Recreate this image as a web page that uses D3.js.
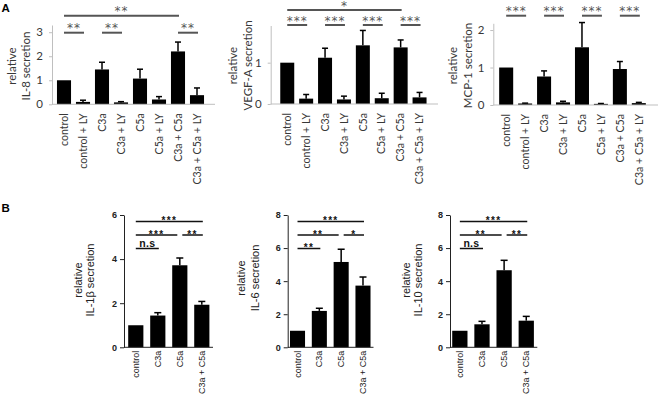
<!DOCTYPE html>
<html><head><meta charset="utf-8">
<script src="https://cdn.jsdelivr.net/npm/d3@7"></script>
<style>body{margin:0;background:#fff}</style>
</head><body><svg id="c" width="661" height="401"></svg>
<script>
// ---------- data ----------
const catsA = ["control","control + LY","C3a","C3a + LY","C5a","C5a + LY","C3a + C5a","C3a + C5a + LY"];
const il8    = [1.0, 0.10, 1.45, 0.08, 1.07, 0.20, 2.20, 0.38];
const il8Err = [0,   0.07, 0.30, 0.03, 0.39, 0.12, 0.39, 0.30];
const vegf    = [1.0, 0.13, 1.12, 0.11, 1.42, 0.14, 1.37, 0.16];
const vegfErr = [0,   0.10, 0.23, 0.08, 0.36, 0.12, 0.18, 0.12];
const mcp1    = [1.0, 0.04, 0.76, 0.07, 1.54, 0.03, 0.96, 0.05];
const mcp1Err = [0,   0.01, 0.15, 0.03, 0.66, 0.01, 0.20, 0.02];
const ticksIL8 = [0,1,2,3];
const ticksVEGF = [0,1];
const ticksMCP1 = [0,1,2];
// significance: [from index, to index, label, level]
const sigIL8  = [[0,6,"**",0],[0,1,"**",1],[2,3,"**",1],[6,7,"**",1]];
const sigVEGF = [[0,6,"*",0],[0,1,"***",1],[2,3,"***",1],[4,5,"***",1],[6,7,"***",1]];
const sigMCP1 = [[0,1,"***",0],[2,3,"***",0],[4,5,"***",0],[6,7,"***",0]];

const catsB = ["control","C3a","C5a","C3a + C5a"];
const il1b    = [1.0, 1.44, 3.72, 1.93];
const il1bErr = [0,   0.13, 0.33, 0.15];
const il6     = [1.0, 2.20, 5.16, 3.73];
const il6Err  = [0,   0.16, 0.77, 0.52];
const il10    = [1.0, 1.39, 4.66, 1.61];
const il10Err = [0,   0.18, 0.60, 0.26];
const ticksIL1b = [0,2,4,6];
const ticksIL6  = [0,2,4,6,8];
const ticksIL10 = [0,2,4,6,8];
const sigIL1b = [[0,3,"***",0],[0,2,"***",1],[2,3,"**",1],[0,1,"n.s",2]];
const sigIL6  = [[0,3,"***",0],[0,2,"**",1],[2,3,"*",1],[0,1,"**",2]];
const sigIL10 = [[0,3,"***",0],[0,2,"**",1],[2,3,"**",1],[0,1,"n.s",2]];

// ---------- drawing ----------
const svg = d3.select("#c");

const styleA = {font:"Lato, 'Liberation Sans', sans-serif", tickFont:"11.5px", tickWeight:"normal",
  textColor:"#383838", axisColor:"#bfbfbf", tickSize:3, tickPad:6, xFont:"10.6px", xOff:9,
  yFont:"11.5px", sigColor:"#555", sigWidth:2, sigFont:"12px", sigWeight:"normal", sigLS:"1px",
  sigFam:"'DejaVu Sans', sans-serif", starDy:-0.5, cap:3, pi:0.26, po:0.13};
const styleB = {font:"'Liberation Sans', Arial, sans-serif", tickFont:"9px", tickWeight:"bold",
  textColor:"#222", axisColor:"#222", tickSize:4, tickPad:3, xFont:"9px", xOff:3.5,
  yFont:"11px", sigColor:"#111", sigWidth:1.5, sigFont:"10px", sigWeight:"bold", sigLS:"1.3px",
  sigFam:"'Liberation Sans', Arial, sans-serif", starDy:2.5, cap:3.5, pi:0.31, po:0.1};

function drawChart(o, st) {
  const g = svg.append("g");
  const x = d3.scaleBand().domain(o.cats).range(o.xr).paddingInner(st.pi).paddingOuter(st.po);
  const y = d3.scaleLinear().domain([0, o.ymax]).range([o.y0, o.yTop]);
  const bw = x.bandwidth();
  const cx = i => x(o.cats[i]) + bw / 2;

  // bars
  g.selectAll("rect.bar").data(o.vals).join("rect")
    .attr("x", (d, i) => x(o.cats[i])).attr("width", bw)
    .attr("y", d => y(d)).attr("height", d => y(0) - y(d)).attr("fill", "#000");

  // error bars
  o.vals.forEach((v, i) => {
    const e = o.errs[i];
    if (!e) return;
    const c = cx(i);
    g.append("line").attr("x1", c).attr("x2", c).attr("y1", y(v)).attr("y2", y(v + e))
      .attr("stroke", "#000").attr("stroke-width", 1.5);
    g.append("line").attr("x1", c - st.cap).attr("x2", c + st.cap).attr("y1", y(v + e)).attr("y2", y(v + e))
      .attr("stroke", "#000").attr("stroke-width", 1.5);
  });

  // y axis
  const ax = g.append("g").attr("transform", `translate(${o.axisX},0)`)
    .call(d3.axisLeft(y).tickValues(o.ticks).tickFormat(d3.format("d"))
      .tickSize(st.tickSize).tickSizeOuter(0).tickPadding(st.tickPad));
  ax.select(".domain").attr("stroke", st.axisColor);
  ax.selectAll(".tick line").attr("stroke", st.axisColor);
  ax.selectAll(".tick text").attr("fill", st.textColor).style("font-family", st.font)
    .style("font-size", st.tickFont).style("font-weight", st.tickWeight);

  // baseline
  g.append("line").attr("x1", o.axisX).attr("x2", o.xEnd).attr("y1", y(0)).attr("y2", y(0))
    .attr("stroke", st.axisColor).attr("stroke-width", 1);

  // x labels
  o.cats.forEach((c, i) => {
    g.append("text").attr("transform", `translate(${cx(i)},${y(0) + st.xOff}) rotate(-90)`)
      .attr("text-anchor", "end").attr("dy", "0.35em")
      .style("font-family", st.font).style("font-size", st.xFont).attr("fill", st.textColor)
      .text(c);
  });

  // y label
  [[o.lab1x, "relative"], [o.lab2x, o.label]].forEach(([lx, t]) => {
    g.append("text").attr("transform", `translate(${lx},${o.labY}) rotate(-90)`)
      .attr("text-anchor", "middle").attr("dy", "0.35em")
      .style("font-family", st.font).style("font-size", st.yFont).attr("fill", st.textColor)
      .text(t);
  });

  // significance
  o.sig.forEach(([a, b, lab, lev]) => {
    const ly = o.sigY[lev];
    let x1 = cx(a), x2 = cx(b) + 1;
    if (o.sig.some(s => s[3] === lev && s[1] === a)) x1 += 2.5;
    if (o.sig.some(s => s[3] === lev && s[0] === b)) x2 -= 3.5;
    g.append("line").attr("x1", x1).attr("x2", x2).attr("y1", ly).attr("y2", ly)
      .attr("stroke", st.sigColor).attr("stroke-width", st.sigWidth);
    const isStar = lab.indexOf("*") >= 0;
    g.append("text").attr("x", (x1 + x2) / 2).attr("y", isStar ? ly + st.starDy : ly - 1.5)
      .attr("text-anchor", "middle").attr("fill", st.sigColor)
      .style("font-family", isStar ? st.sigFam : st.font).style("font-size", isStar ? st.sigFont : "10.5px")
      .style("font-weight", st.sigWeight).style("letter-spacing", isStar ? st.sigLS : "0.3px")
      .text(lab);
  });
}

// panel A
drawChart({cats: catsA, vals: il8, errs: il8Err, ticks: ticksIL8, ymax: 3.3, y0: 104.3, yTop: 25,
  axisX: 52, xr: [54.5, 206.5], xEnd: 215, label: "IL-8 secretion", lab1x: 11.7, lab2x: 25.7, labY: 66,
  sig: sigIL8, sigY: [15.7, 32.7]}, styleA);
drawChart({cats: catsA, vals: vegf, errs: vegfErr, ticks: ticksVEGF, ymax: 1.9, y0: 104, yTop: 25.5,
  axisX: 270.7, xr: [277.8, 429], xEnd: 438, label: "VEGF-A secretion", lab1x: 233.3, lab2x: 248.3, labY: 65.5,
  sig: sigVEGF, sigY: [10, 25]}, styleA);
drawChart({cats: catsA, vals: mcp1, errs: mcp1Err, ticks: ticksMCP1, ymax: 2.18, y0: 105, yTop: 23.3,
  axisX: 493.3, xr: [496.7, 648.3], xEnd: 658, label: "MCP-1 secretion", lab1x: 453.3, lab2x: 468.3, labY: 65.5,
  sig: sigMCP1, sigY: [15.7]}, styleA);

// panel B
drawChart({cats: catsB, vals: il1b, errs: il1bErr, ticks: ticksIL1b, ymax: 6, y0: 347.3, yTop: 215,
  axisX: 124, xr: [126, 211.6], xEnd: 213, label: "IL-1\u03b2 secretion", lab1x: 77.7, lab2x: 90, labY: 280,
  sig: sigIL1b, sigY: [221.5, 235, 248.5]}, styleB);
drawChart({cats: catsB, vals: il6, errs: il6Err, ticks: ticksIL6, ymax: 8, y0: 347.3, yTop: 215,
  axisX: 287.7, xr: [287.8, 372.7], xEnd: 373.5, label: "IL-6 secretion", lab1x: 241.5, lab2x: 255, labY: 278,
  sig: sigIL6, sigY: [221.5, 235, 248.5]}, styleB);
drawChart({cats: catsB, vals: il10, errs: il10Err, ticks: ticksIL10, ymax: 8, y0: 347.3, yTop: 215,
  axisX: 450, xr: [450, 536.1], xEnd: 537.3, label: "IL-10 secretion", lab1x: 405.7, lab2x: 418.3, labY: 280,
  sig: sigIL10, sigY: [221.5, 235, 248.5]}, styleB);

// panel letters
svg.append("text").attr("x", 1.5).attr("y", 11.7).text("A")
  .style("font-family", "'Liberation Sans', Arial, sans-serif").style("font-size", "11.5px").style("font-weight", "bold");
svg.append("text").attr("x", 1.5).attr("y", 211.7).text("B")
  .style("font-family", "'Liberation Sans', Arial, sans-serif").style("font-size", "11.5px").style("font-weight", "bold");
</script></body></html>
